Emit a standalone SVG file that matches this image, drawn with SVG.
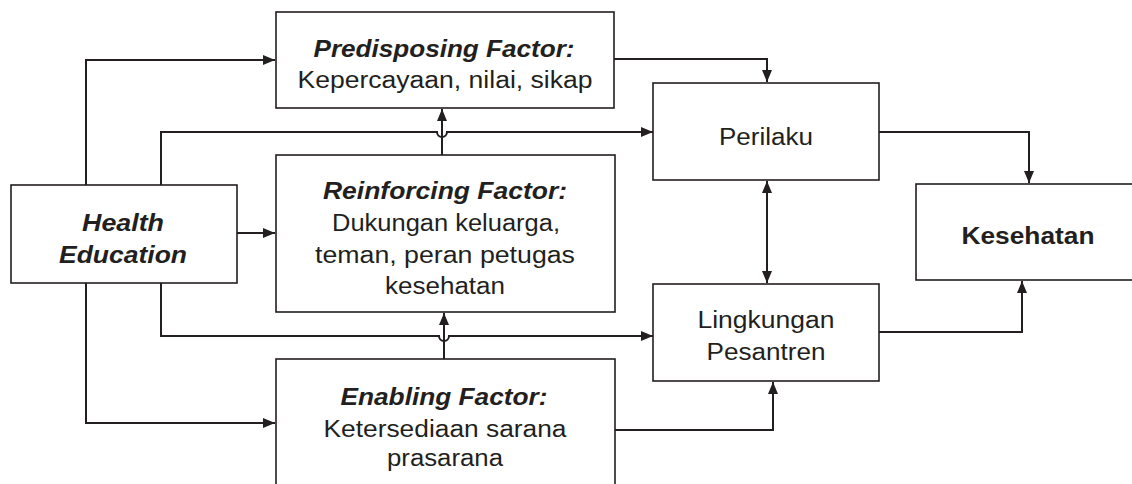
<svg xmlns="http://www.w3.org/2000/svg" width="1132" height="484" viewBox="0 0 1132 484">
<style>
.box{fill:#fff;stroke:#231f20;stroke-width:1.6}
.ln{fill:none;stroke:#231f20;stroke-width:2}
text{font-family:"Liberation Sans",Arial,sans-serif;font-size:23px;fill:#231f20;text-anchor:middle}
.t{font-weight:bold;font-style:italic}
.b{font-weight:bold}
</style>
<defs>
<marker id="ah" viewBox="0 0 12 10" refX="12" refY="5" markerWidth="12" markerHeight="10" markerUnits="userSpaceOnUse" orient="auto">
<path d="M0,0 L12,5 L0,10 Z" fill="#231f20"/>
</marker>
<marker id="as" viewBox="0 0 12 10" refX="0" refY="5" markerWidth="12" markerHeight="10" markerUnits="userSpaceOnUse" orient="auto">
<path d="M12,0 L0,5 L12,10 Z" fill="#231f20"/>
</marker>
</defs>
<g id="connectors">
<path class="ln" d="M86,185 V60 H275" marker-end="url(#ah)"/>
<path class="ln" d="M161,185 V132 H437 A5,5 0 0 0 447,132 H653" marker-end="url(#ah)"/>
<path class="ln" d="M237,233 H275" marker-end="url(#ah)"/>
<path class="ln" d="M161,283 V336 H439 A5,5 0 0 0 449,336 H653" marker-end="url(#ah)"/>
<path class="ln" d="M86,283 V423 H275" marker-end="url(#ah)"/>
<path class="ln" d="M442,155 V109" marker-end="url(#ah)"/>
<path class="ln" d="M444,359 V313" marker-end="url(#ah)"/>
<path class="ln" d="M614,59 H767 V82" marker-end="url(#ah)"/>
<path class="ln" d="M767,181 V283" marker-start="url(#as)" marker-end="url(#ah)"/>
<path class="ln" d="M879,132 H1029 V183" marker-end="url(#ah)"/>
<path class="ln" d="M879,332 H1022 V281" marker-end="url(#ah)"/>
<path class="ln" d="M615,430 H773 V382" marker-end="url(#ah)"/>
</g>
<g id="predisposing">
<rect class="box" x="276" y="12" width="338" height="96"/>
<text class="t" x="444" y="57" textLength="261" lengthAdjust="spacingAndGlyphs">Predisposing Factor:</text>
<text x="445" y="88" textLength="295" lengthAdjust="spacingAndGlyphs">Kepercayaan, nilai, sikap</text>
</g>
<g id="health-education">
<rect class="box" x="11" y="185" width="226" height="98"/>
<text class="t" x="123" y="231" textLength="82" lengthAdjust="spacingAndGlyphs">Health</text>
<text class="t" x="123" y="263" textLength="128" lengthAdjust="spacingAndGlyphs">Education</text>
</g>
<g id="reinforcing">
<rect class="box" x="276" y="155" width="339" height="157"/>
<text class="t" x="445" y="199" textLength="244" lengthAdjust="spacingAndGlyphs">Reinforcing Factor:</text>
<text x="446" y="231" textLength="228" lengthAdjust="spacingAndGlyphs">Dukungan keluarga,</text>
<text x="445" y="263" textLength="260" lengthAdjust="spacingAndGlyphs">teman, peran petugas</text>
<text x="445" y="294" textLength="120" lengthAdjust="spacingAndGlyphs">kesehatan</text>
</g>
<g id="enabling">
<rect class="box" x="276" y="359" width="339" height="140"/>
<text class="t" x="444" y="405" textLength="207" lengthAdjust="spacingAndGlyphs">Enabling Factor:</text>
<text x="445" y="437" textLength="243" lengthAdjust="spacingAndGlyphs">Ketersediaan sarana</text>
<text x="445" y="466" textLength="116" lengthAdjust="spacingAndGlyphs">prasarana</text>
</g>
<g id="perilaku">
<rect class="box" x="653" y="83" width="226" height="97"/>
<text x="766" y="145" textLength="94" lengthAdjust="spacingAndGlyphs">Perilaku</text>
</g>
<g id="lingkungan">
<rect class="box" x="653" y="284" width="226" height="97"/>
<text x="766" y="328" textLength="137" lengthAdjust="spacingAndGlyphs">Lingkungan</text>
<text x="766" y="360" textLength="119" lengthAdjust="spacingAndGlyphs">Pesantren</text>
</g>
<g id="kesehatan">
<rect class="box" x="916" y="184" width="230" height="96"/>
<text class="b" x="1028" y="244" textLength="133" lengthAdjust="spacingAndGlyphs">Kesehatan</text>
</g>
</svg>
